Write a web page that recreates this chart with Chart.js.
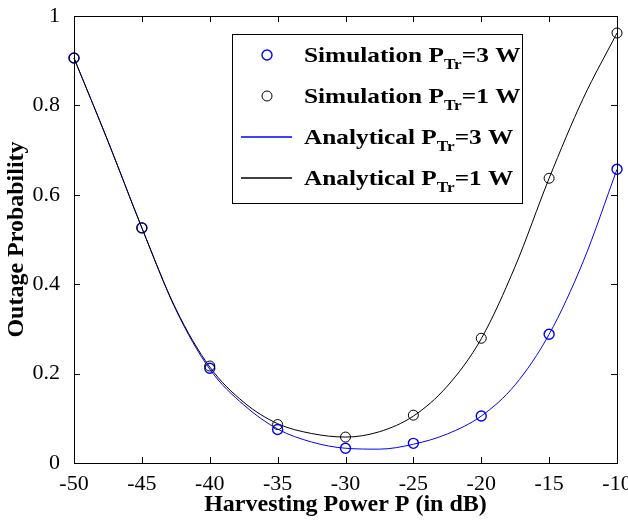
<!DOCTYPE html>
<html>
<head>
<meta charset="utf-8">
<script src="https://cdn.jsdelivr.net/npm/chart.js@4.4.1/dist/chart.umd.min.js"></script>
<style>
  html, body { margin: 0; padding: 0; background: #fff; }
  #wrap { width: 628px; height: 521px; }
</style>
</head>
<body>
<div id="wrap"><canvas id="chart" width="628" height="521"></canvas></div>
<script>
// harvesting power (dB) where the simulation points sit
const simX = [-50, -45, -40, -35, -30, -25, -20, -15, -10];
const sim3W = [0.906, 0.526, 0.212, 0.075, 0.033, 0.044, 0.105, 0.288, 0.657];
const sim1W = [0.906, 0.526, 0.217, 0.086, 0.058, 0.107, 0.279, 0.637, 0.962];

// analytical curves, every 2.5 dB
const anaX = [-50, -47.5, -45, -42.5, -40, -37.5, -35, -32.5, -30, -27.5, -25, -22.5, -20, -17.5, -15, -12.5, -10];
const ana3W = [0.906, 0.72, 0.526, 0.343, 0.21, 0.13, 0.076, 0.047, 0.033, 0.031, 0.042, 0.065, 0.105, 0.175, 0.288, 0.45, 0.657];
const ana1W = [0.906, 0.72, 0.526, 0.345, 0.215, 0.136, 0.088, 0.066, 0.058, 0.07, 0.105, 0.172, 0.278, 0.44, 0.637, 0.815, 0.962];

const xTicks = [-50, -45, -40, -35, -30, -25, -20, -15, -10];
const yTicks = [0, 0.2, 0.4, 0.6, 0.8, 1];

const legendMain = ['Simulation P', 'Simulation P', 'Analytical P', 'Analytical P'];
const legendSub = ['Tr', 'Tr', 'Tr', 'Tr'];
const legendTail = ['=3 W', '=1 W', '=3 W', '=1 W'];
const legendColor = ['#0000ff', '#000000', '#0000ff', '#000000'];
const legendIsMarker = [true, true, false, false];

const BLUE = '#0000ff';
const BLACK = '#000000';
const SERIF = '"Liberation Serif", "Times New Roman", serif';

const pts = (xs, ys) => xs.map((x, i) => ({ x: x, y: ys[i] }));

// frame + inward ticks on all four sides, like matlab's box on
const framePlugin = {
    id: 'frame',
    afterDatasetsDraw(chart) {
        const { ctx, chartArea: a, scales: { x, y } } = chart;
        ctx.save();
        ctx.strokeStyle = '#000';
        ctx.lineWidth = 1;
        ctx.beginPath();
        xTicks.forEach(v => {
            const px = Math.round(x.getPixelForValue(v)) + 0.5;
            ctx.moveTo(px, a.bottom); ctx.lineTo(px, a.bottom - 6);
            ctx.moveTo(px, a.top); ctx.lineTo(px, a.top + 6);
        });
        yTicks.forEach(v => {
            const py = Math.round(y.getPixelForValue(v)) + 0.5;
            ctx.moveTo(a.left, py); ctx.lineTo(a.left + 6, py);
            ctx.moveTo(a.right, py); ctx.lineTo(a.right - 6, py);
        });
        ctx.stroke();
        ctx.strokeRect(Math.round(a.left) + 0.5, Math.round(a.top) + 0.5,
            Math.round(a.right - a.left), Math.round(a.bottom - a.top));
        ctx.restore();
    }
};

// legend with subscripts, chart.js legend can't do those
const legendPlugin = {
    id: 'subLegend',
    afterDraw(chart) {
        const { ctx, chartArea: a } = chart;
        const bx = a.left + 158, by = a.top + 18, bw = 290, bh = 169;
        const sx = 1.15; // source text is a bit wide
        ctx.save();
        ctx.fillStyle = '#fff';
        ctx.fillRect(bx, by, bw, bh);
        ctx.strokeStyle = '#000';
        ctx.lineWidth = 1;
        ctx.strokeRect(bx + 0.5, by + 0.5, bw, bh);
        for (let i = 0; i < legendMain.length; i++) {
            const cy = by + 21 + i * 41;
            ctx.strokeStyle = legendColor[i];
            if (legendIsMarker[i]) {
                ctx.lineWidth = legendColor[i] === BLUE ? 1.4 : 1;
                ctx.beginPath();
                ctx.arc(bx + 35, cy, 5, 0, Math.PI * 2);
                ctx.stroke();
            } else {
                ctx.lineWidth = 1.4;
                ctx.beginPath();
                ctx.moveTo(bx + 9, cy);
                ctx.lineTo(bx + 60, cy);
                ctx.stroke();
            }
            ctx.save();
            ctx.translate(bx + 72, 0);
            ctx.scale(sx, 1);
            let tx = 0;
            ctx.fillStyle = '#000';
            ctx.textBaseline = 'alphabetic';
            ctx.font = 'bold 22px ' + SERIF;
            ctx.fillText(legendMain[i], tx, cy + 7);
            tx += ctx.measureText(legendMain[i]).width;
            ctx.font = 'bold 15px ' + SERIF;
            ctx.fillText(legendSub[i], tx, cy + 14);
            tx += ctx.measureText(legendSub[i]).width;
            ctx.font = 'bold 22px ' + SERIF;
            ctx.fillText(legendTail[i], tx, cy + 7);
            ctx.restore();
        }
        ctx.restore();
    }
};

const ctx = document.getElementById('chart').getContext('2d');
new Chart(ctx, {
    type: 'line',
    data: {
        datasets: [
            {
                label: 'Simulation PTr=1 W', order: 0,
                data: pts(simX, sim1W), showLine: false,
                borderColor: BLACK, backgroundColor: 'rgba(0,0,0,0)',
                pointStyle: 'circle', pointRadius: 5, pointBorderWidth: 1
            },
            {
                label: 'Simulation PTr=3 W', order: 1,
                data: pts(simX, sim3W), showLine: false,
                borderColor: BLUE, backgroundColor: 'rgba(0,0,0,0)',
                pointStyle: 'circle', pointRadius: 5, pointBorderWidth: 1.4
            },
            {
                label: 'Analytical PTr=1 W', order: 2,
                data: pts(anaX, ana1W), borderColor: BLACK, borderWidth: 1,
                pointRadius: 0, cubicInterpolationMode: 'monotone', fill: false
            },
            {
                label: 'Analytical PTr=3 W', order: 3,
                data: pts(anaX, ana3W), borderColor: BLUE, borderWidth: 1,
                pointRadius: 0, cubicInterpolationMode: 'monotone', fill: false
            }
        ]
    },
    options: {
        responsive: false,
        animation: false,
        devicePixelRatio: 1,
        clip: false,
        layout: { padding: { left: 0, top: 16, right: 11, bottom: 0 } },
        plugins: {
            legend: { display: false },
            tooltip: { enabled: false }
        },
        scales: {
            x: {
                type: 'linear', min: -50, max: -10,
                afterBuildTicks: s => { s.ticks = xTicks.map(v => ({ value: v })); },
                afterFit: s => { s.height = 58; s.paddingLeft = 0; s.paddingRight = 0; },
                grid: { display: false },
                border: { display: false },
                ticks: { color: '#000', padding: 0, maxRotation: 0, font: { family: SERIF, size: 22 } },
                title: {
                    display: true, text: 'Harvesting Power P (in dB)', color: '#000',
                    padding: { top: 0, bottom: 2 },
                    font: { family: SERIF, size: 24, weight: 'bold' }
                }
            },
            y: {
                type: 'linear', min: 0, max: 1,
                afterBuildTicks: s => { s.ticks = yTicks.map(v => ({ value: v })); },
                afterFit: s => { s.width = 74; s.paddingTop = 0; s.paddingBottom = 0; },
                grid: { display: false },
                border: { display: false },
                ticks: {
                    color: '#000', padding: 6, font: { family: SERIF, size: 22 },
                    callback: v => String(v)
                },
                title: {
                    display: true, text: 'Outage Probability', color: '#000',
                    padding: { top: 2, bottom: 0 },
                    font: { family: SERIF, size: 24, weight: 'bold' }
                }
            }
        }
    },
    plugins: [framePlugin, legendPlugin]
});
</script>
</body>
</html>
